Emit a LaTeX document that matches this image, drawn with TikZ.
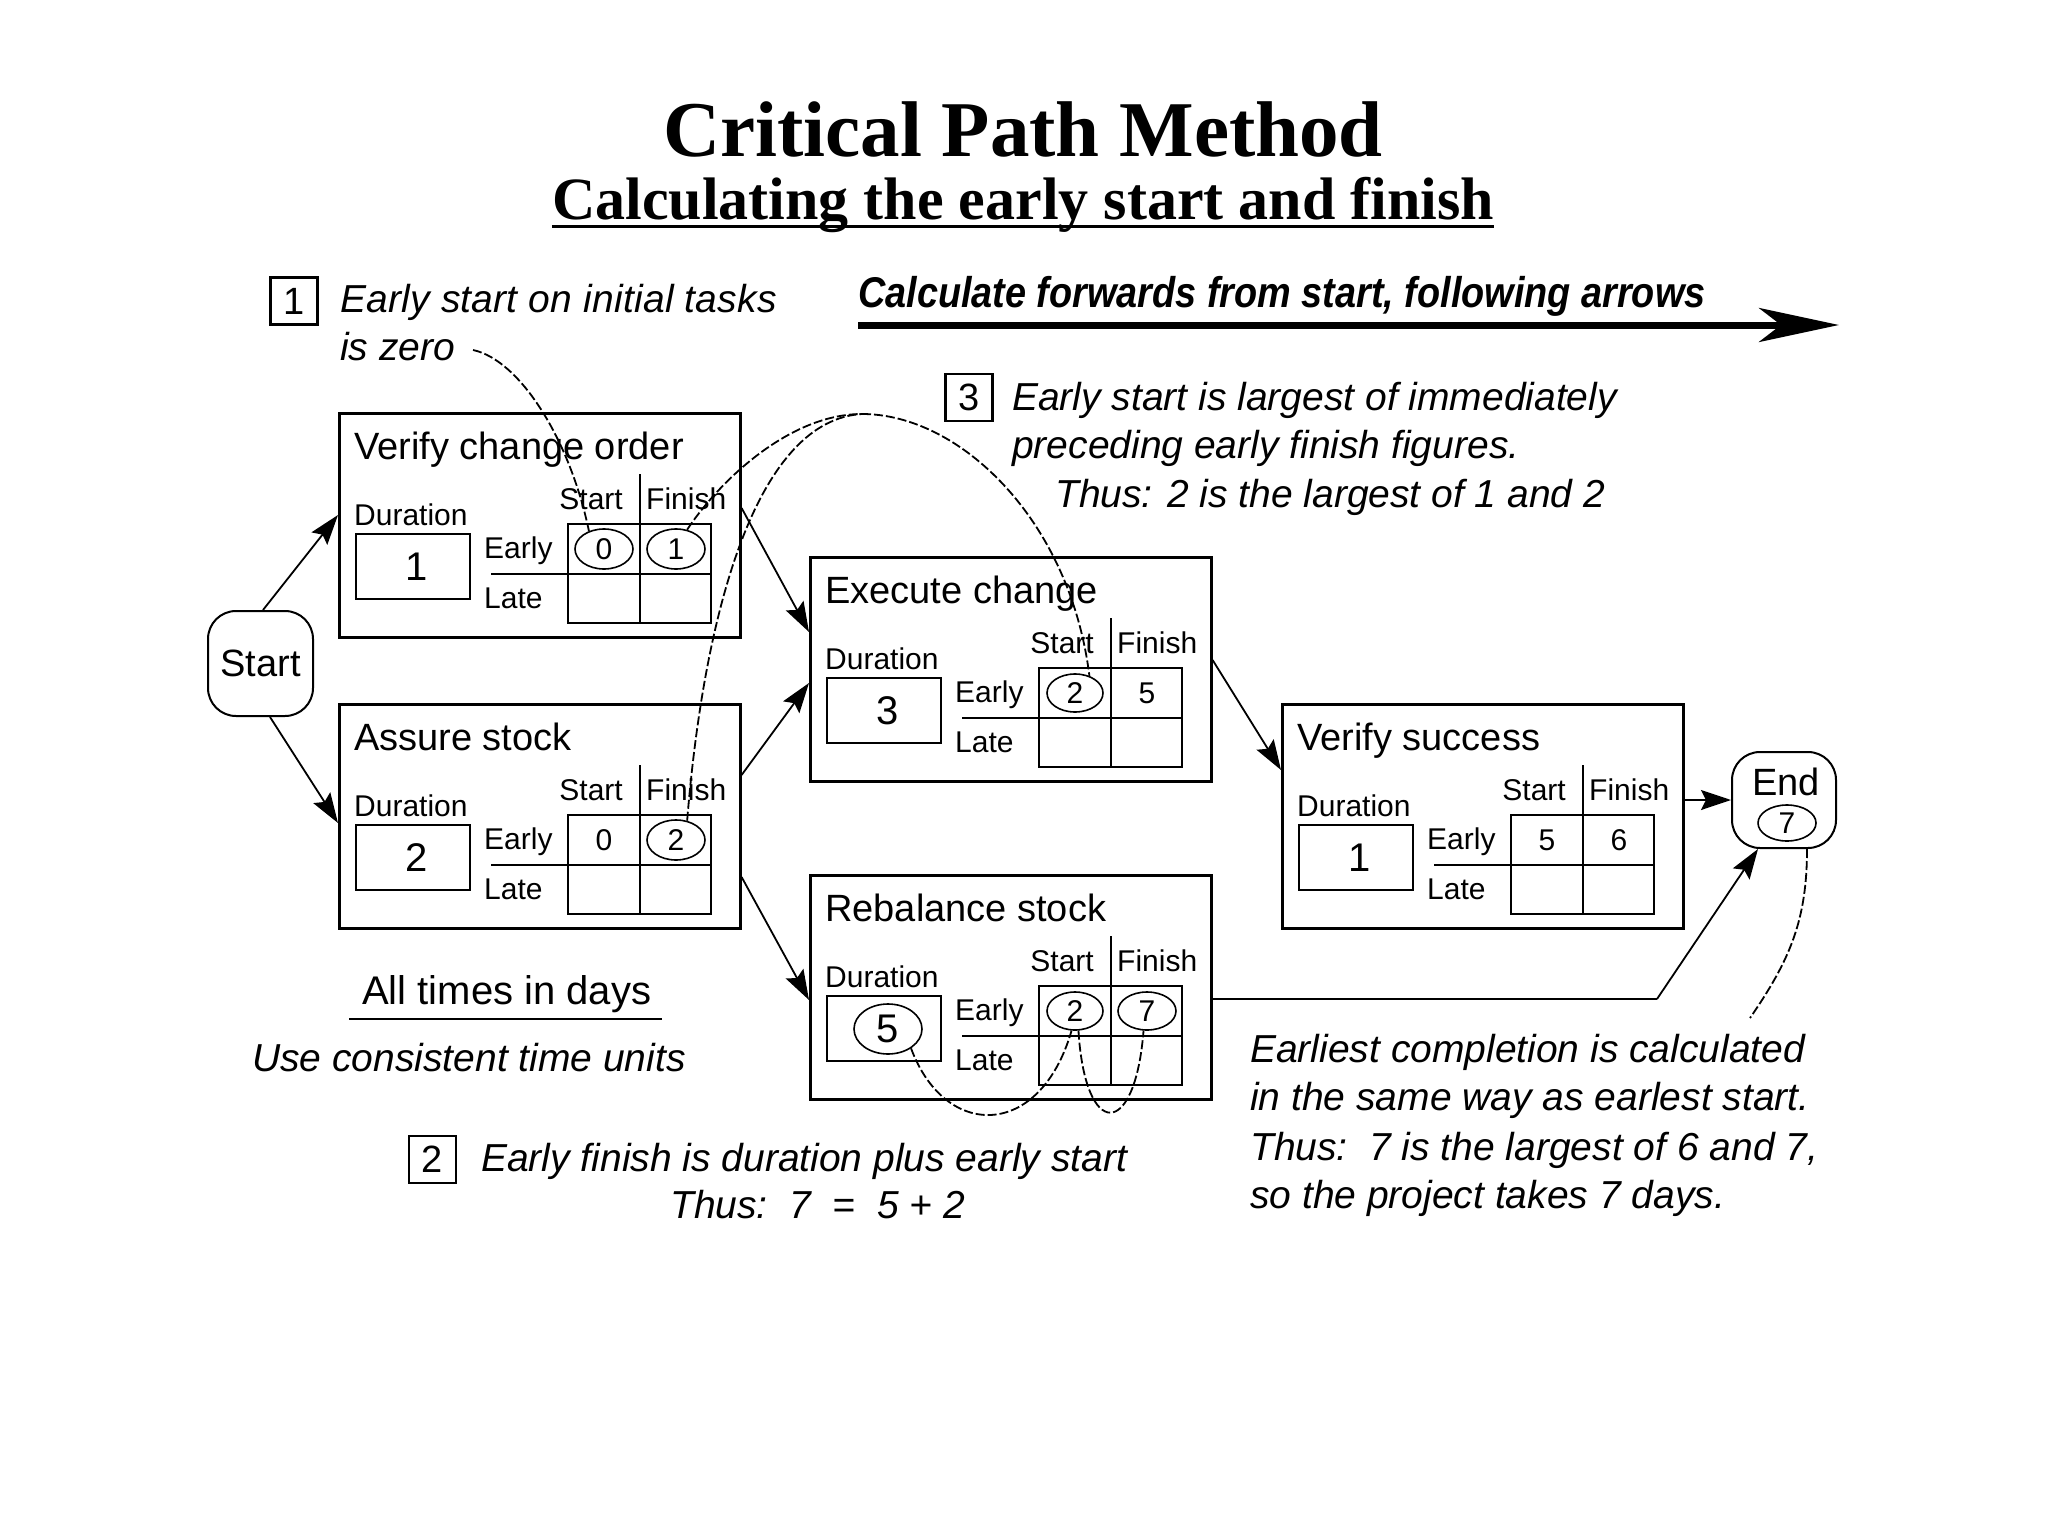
\documentclass[tikz,border=0pt]{standalone}
\usepackage{fontspec}
\setmainfont{Liberation Sans}
\newfontfamily\serifbold{Liberation Serif}
\usepackage{graphicx}
\usetikzlibrary{arrows.meta,shapes.geometric,calc}
\newcommand\fsz[1]{\fontsize{#1}{#1}\selectfont}

\tikzset{
  tbox/.style={draw, line width=2.6pt, inner sep=0pt},
  gl/.style={line width=2.2pt},
  lbl/.style={inner sep=0pt, font=\fsz{30}},
  ttl/.style={inner sep=0pt, anchor=base west, font=\fsz{38}},
  num/.style={inner sep=0pt, font=\fsz{30}},
  dnum/.style={inner sep=0pt, font=\fsz{40}},
  ell/.style={draw, ellipse, line width=1.6pt, inner sep=0pt},
  conn/.style={line width=1.8pt, -{Stealth[length=30pt,width=20pt,inset=5pt]}},
  crv/.style={line width=1.8pt, dash pattern=on 9pt off 3pt},
  ann/.style={inner sep=0pt, anchor=base west, font=\itshape\fsz{39}},
  nbox/.style={draw, line width=2.4pt, minimum width=47pt, minimum height=47pt, inner sep=0pt, font=\fsz{38}},
  rnd/.style={draw, line width=2pt, rounded corners=28pt, inner sep=0pt},
}

\newcommand\taskbox[6]{%
\begin{scope}[shift={#2}]
  \node[tbox, anchor=north west, minimum width=401pt, minimum height=224pt] (#1) at (0,0) {};
  \node[ttl] (#1-t) at (16,47) {#3};
  \node[lbl, anchor=base west] (#1-dl) at (16,113) {Duration};
  \node[tbox, minimum width=114pt, minimum height=65pt] (#1-db) at (75,154.5) {};
  \node[dnum] (#1-dur) at (79,155) {#4};
  \node[lbl, anchor=base east] (#1-sl) at (285,97) {Start};
  \node[lbl, anchor=base west] (#1-fl) at (308,97) {Finish};
  \node[lbl, anchor=base west] (#1-el) at (146,146) {Early};
  \node[lbl, anchor=base west] (#1-ll) at (146,196) {Late};
  \draw[gl] (230,112) rectangle (373,211);
  \draw[gl] (153,162) -- (373,162);
  \draw[gl] (302,62) -- (302,211);
  \node[num] (#1-es) at (266,137) {#5};
  \node[num] (#1-ef) at (338,137) {#6};
\end{scope}}

\begin{document}
\begin{tikzpicture}[x=1pt,y=-1pt]
\fill[white] (0,0) rectangle (2048,1536);
\path[use as bounding box] (0,0) rectangle (2048,1536);

% titles
\node[inner sep=0pt, anchor=base, font=\serifbold\bfseries\fsz{79}] (title) at (1023,157) {Critical Path Method};
\node[inner sep=0pt, anchor=base, font=\serifbold\bfseries\fsz{60}] (sub) at (1023,219) {Calculating the early start and finish};
\draw[line width=3pt] ([yshift=-7pt]sub.base west) -- ([yshift=-7pt]sub.base east);

% forward arrow
\node[inner sep=0pt, anchor=base west, font=\bfseries\itshape\fsz{43}] (fwd) at (858,307) {\scalebox{0.88}[1]{Calculate forwards from start, following arrows}};
\coordinate (fwdA) at (858,325);
\coordinate (fwdB) at (1839,325);
\draw[line width=7pt, -{Stealth[length=80pt,width=34pt,inset=22pt]}] (fwdA) -- (fwdB);

% note 1
\node[nbox] (n1) at (294,301) {1};
\node[ann, font=\itshape\fsz{39}\addfontfeature{LetterSpace=0.6}] (note1a) at (340,312) {Early start on initial tasks};
\node[ann] (note1b) at (340,360) {is zero};

% note 3
\node[nbox] (n3) at (969,397.5) {3};
\node[ann] (note3a) at (1012,410) {Early start is largest of immediately};
\node[ann] (note3b) at (1012,458) {preceding early finish figures.};
\node[ann] (note3c) at (1055,507) {Thus: 2 is the largest of 1 and 2};

% task boxes
\taskbox{V}{(338,412)}{Verify change order}{1}{0}{1}
\taskbox{A}{(338,703)}{Assure stock}{2}{0}{2}
\taskbox{E}{(809,556)}{Execute change}{3}{2}{5}
\taskbox{R}{(809,874)}{Rebalance stock}{5}{2}{7}
\taskbox{S}{(1281,703)}{Verify success}{1}{5}{6}

% circled values
\node[ell, minimum width=58pt, minimum height=40pt] (V-eso) at (V-es) {};
\node[ell, minimum width=58pt, minimum height=40pt] (V-efo) at (V-ef) {};
\node[ell, minimum width=58pt, minimum height=40pt] (A-efo) at (A-ef) {};
\node[ell, minimum width=56pt, minimum height=38pt] (E-eso) at (E-es) {};
\node[ell, minimum width=56pt, minimum height=38pt] (R-eso) at (R-es) {};
\node[ell, minimum width=58pt, minimum height=38pt] (R-efo) at (R-ef) {};
\node[ell, minimum width=68pt, minimum height=50pt] (R-duro) at (R-dur) {};

% start / end
\node[rnd, minimum width=105pt, minimum height=105pt, font=\fsz{38}] (st) at (260.5,663.5) {Start};
\node[rnd, minimum width=104pt, minimum height=96pt] (en) at (1784,800) {};
\node[inner sep=0pt, font=\fsz{38}] (entxt) at (1786,782) {End};
\node[num] (enval) at (1787,823) {7};
\node[ell, minimum width=58pt, minimum height=36pt] (envalo) at (enval) {};

% connectors
\draw[conn] ([xshift=2.5pt]st.north) -- ([yshift=-103pt]V.north west);
\draw[conn] ([xshift=9.5pt]st.south) -- ([yshift=-120pt]A.north west);
\draw[conn] ([yshift=-96pt]V.north east) -- ([yshift=-76pt]E.north west);
\draw[conn] ([yshift=-72pt]A.north east) -- ([yshift=-127pt]E.north west);
\draw[conn] ([yshift=-174pt]A.north east) -- ([yshift=-126pt]R.north west);
\draw[conn] ([yshift=-104pt]E.north east) -- ([yshift=-67pt]S.north west);
\draw[conn] ([yshift=-97pt]S.north east) -- (en.west);
\coordinate (bend) at (1657,999);
\draw[line width=2.4pt] ([yshift=-125pt]R.north east) -- (bend);
\draw[conn] (bend) -- ([xshift=-26pt]en.south);

% explanatory curves
\coordinate (zeroend) at (473,350);
\draw[crv] (zeroend) .. controls (520,360) and (570,440) .. (V-eso.130);
\coordinate (peak) at (862,414);
\draw[crv] (V-efo.60) .. controls (720,480) and (790,414) .. (peak);
\draw[crv] (A-efo.60) .. controls (705,600) and (760,420) .. (peak);
\draw[crv] (peak) .. controls (960,414) and (1070,520) .. (E-eso.50);
\draw[crv] (R-duro.-40) .. controls (945,1140) and (1040,1140) .. (R-eso.-100);
\draw[crv] (R-eso.-80) .. controls (1085,1140) and (1135,1140) .. (R-efo.-100);
\coordinate (endnote) at (1750,1018);
\draw[crv] ([xshift=23pt]en.south) .. controls (1807,920) and (1790,960) .. (endnote);

% bottom-left notes
\node[inner sep=0pt, anchor=base west, font=\fsz{40}] (alltimes) at (362,1004) {All times in days};
\draw[line width=2.5pt] ([xshift=-13pt,yshift=-15pt]alltimes.base west) -- ([xshift=11pt,yshift=-15pt]alltimes.base east);
\node[ann] (units) at (252,1071) {Use consistent time units};

% note 2
\node[nbox] (n2) at (432.5,1159.5) {2};
\node[ann] (note2a) at (481,1171) {Early finish is duration plus early start};
\node[ann] (note2b) at (670,1218) {Thus:\ \ 7\ \ =\ \ 5 + 2};

% completion note
\node[ann] (comp1) at (1250,1062) {Earliest completion is calculated};
\node[ann] (comp2) at (1250,1110) {in the same way as earlest start.};
\node[ann] (comp3) at (1250,1160) {Thus:\ \ 7 is the largest of 6 and 7,};
\node[ann] (comp4) at (1250,1208) {so the project takes 7 days.};
\end{tikzpicture}
\end{document}
